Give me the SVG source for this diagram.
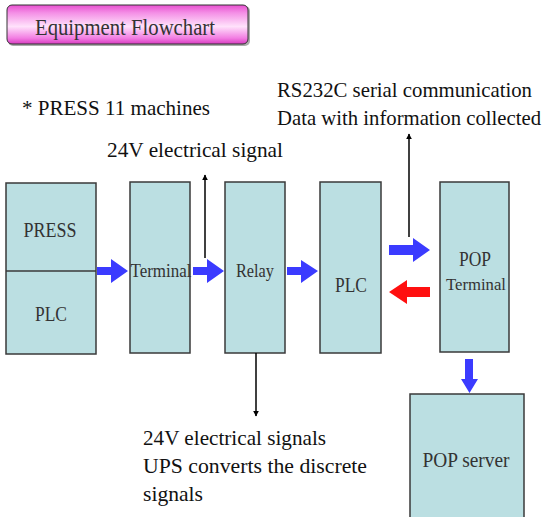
<svg xmlns="http://www.w3.org/2000/svg" width="546" height="517" viewBox="0 0 546 517">
  <defs>
    <linearGradient id="titleFill" x1="0" y1="0" x2="0" y2="1">
      <stop offset="0" stop-color="#e84fd0"/>
      <stop offset="0.2" stop-color="#f48fe6"/>
      <stop offset="0.55" stop-color="#ffe2fb"/>
      <stop offset="0.85" stop-color="#f27de2"/>
      <stop offset="1" stop-color="#d83bc0"/>
    </linearGradient>
    <marker id="tip" viewBox="0 0 10 10" refX="9" refY="5" markerWidth="6" markerHeight="8" orient="auto" markerUnits="userSpaceOnUse">
      <path d="M0,0 L10,5 L0,10 Z" fill="#000"/>
    </marker>
  </defs>
  <style>
    .box { fill: #bbdfe2; stroke: #3a3a3a; stroke-width: 1.5; }
    .txt { font-family: "Liberation Serif", "DejaVu Serif", serif; fill: #111; }
    .lbl { font-family: "Liberation Serif", "DejaVu Serif", serif; fill: #333; }
    .wire { stroke: #000; stroke-width: 1.5; fill: none; marker-end: url(#tip); }
    .blue { fill: #3b3bff; }
    .red { fill: #ff1010; }
  </style>
  <rect width="546" height="517" fill="#fff"/>

  <!-- title banner -->
  <g id="title">
    <rect x="8" y="6" width="242" height="40" rx="5" fill="#555" opacity="0.5"/>
    <rect x="7" y="5" width="241" height="39" rx="5" fill="url(#titleFill)" stroke="#333" stroke-width="1"/>
    <text class="lbl" x="35" y="35" font-size="23" textLength="180" lengthAdjust="spacingAndGlyphs">Equipment Flowchart</text>
  </g>

  <!-- free-standing notes -->
  <g id="notes">
    <text class="txt" x="22" y="115" font-size="22" textLength="188" lengthAdjust="spacingAndGlyphs">* PRESS 11 machines</text>
    <text class="txt" x="277" y="97" font-size="22" textLength="255" lengthAdjust="spacingAndGlyphs">RS232C serial communication</text>
    <text class="txt" x="277" y="125" font-size="22" textLength="264" lengthAdjust="spacingAndGlyphs">Data with information collected</text>
    <text class="txt" x="107" y="157" font-size="22" textLength="176" lengthAdjust="spacingAndGlyphs">24V electrical signal</text>
    <text class="txt" x="143" y="445" font-size="22" textLength="183" lengthAdjust="spacingAndGlyphs">24V electrical signals</text>
    <text class="txt" x="143" y="473" font-size="22" textLength="224" lengthAdjust="spacingAndGlyphs">UPS converts the discrete</text>
    <text class="txt" x="143" y="501" font-size="22" textLength="60" lengthAdjust="spacingAndGlyphs">signals</text>
  </g>

  <!-- equipment nodes -->
  <g id="press-plc">
    <rect class="box" x="6" y="183" width="90" height="171"/>
    <line x1="6" y1="271" x2="96" y2="271" stroke="#3a3a3a" stroke-width="1.5"/>
    <text class="lbl" x="50" y="237" font-size="22" text-anchor="middle" textLength="53" lengthAdjust="spacingAndGlyphs">PRESS</text>
    <text class="lbl" x="51" y="321" font-size="22" text-anchor="middle" textLength="32" lengthAdjust="spacingAndGlyphs">PLC</text>
  </g>
  <g id="terminal">
    <rect class="box" x="130" y="182" width="60" height="171"/>
    <text class="lbl" x="161" y="277" font-size="19" text-anchor="middle" textLength="61" lengthAdjust="spacingAndGlyphs">Terminal</text>
  </g>
  <g id="relay">
    <rect class="box" x="225" y="182" width="60" height="171"/>
    <text class="lbl" x="255" y="277" font-size="19" text-anchor="middle" textLength="38" lengthAdjust="spacingAndGlyphs">Relay</text>
  </g>
  <g id="plc">
    <rect class="box" x="320" y="182" width="61" height="171"/>
    <text class="lbl" x="351" y="292" font-size="22" text-anchor="middle" textLength="32" lengthAdjust="spacingAndGlyphs">PLC</text>
  </g>
  <g id="pop-terminal">
    <rect class="box" x="440" y="182" width="69" height="170"/>
    <text class="lbl" x="475" y="266" font-size="22" text-anchor="middle" textLength="32" lengthAdjust="spacingAndGlyphs">POP</text>
    <text class="lbl" x="476" y="290" font-size="17" text-anchor="middle" textLength="60" lengthAdjust="spacingAndGlyphs">Terminal</text>
  </g>
  <g id="pop-server">
    <rect class="box" x="410" y="394" width="114" height="130"/>
    <text class="lbl" x="466" y="467" font-size="22" text-anchor="middle" textLength="87" lengthAdjust="spacingAndGlyphs">POP server</text>
  </g>

  <!-- connectors -->
  <g id="connectors">
    <!-- block arrows along the signal path -->
    <path class="blue" d="M97,267 H111 V259 L128,271 L111,283 V275 H97 Z"/>
    <path class="blue" d="M193,267 H207 V259 L224,271 L207,283 V275 H193 Z"/>
    <path class="blue" d="M287,267 H301 V260 L318,271 L301,283 V275 H287 Z"/>
    <path class="blue" d="M389,245 H413 V238 L430,250 L413,262 V255 H389 Z"/>
    <path class="red" d="M430,287 H407 V280 L389,292 L407,304 V297 H430 Z"/>
    <path class="blue" d="M465,359 H473 V379 H478 L469.5,393 L461,379 H465 Z"/>
    <!-- thin signal leads -->
    <line class="wire" x1="205" y1="258" x2="205" y2="175"/>
    <line class="wire" x1="409" y1="237" x2="409" y2="134"/>
    <line class="wire" x1="256" y1="353" x2="256" y2="416"/>
  </g>
</svg>
